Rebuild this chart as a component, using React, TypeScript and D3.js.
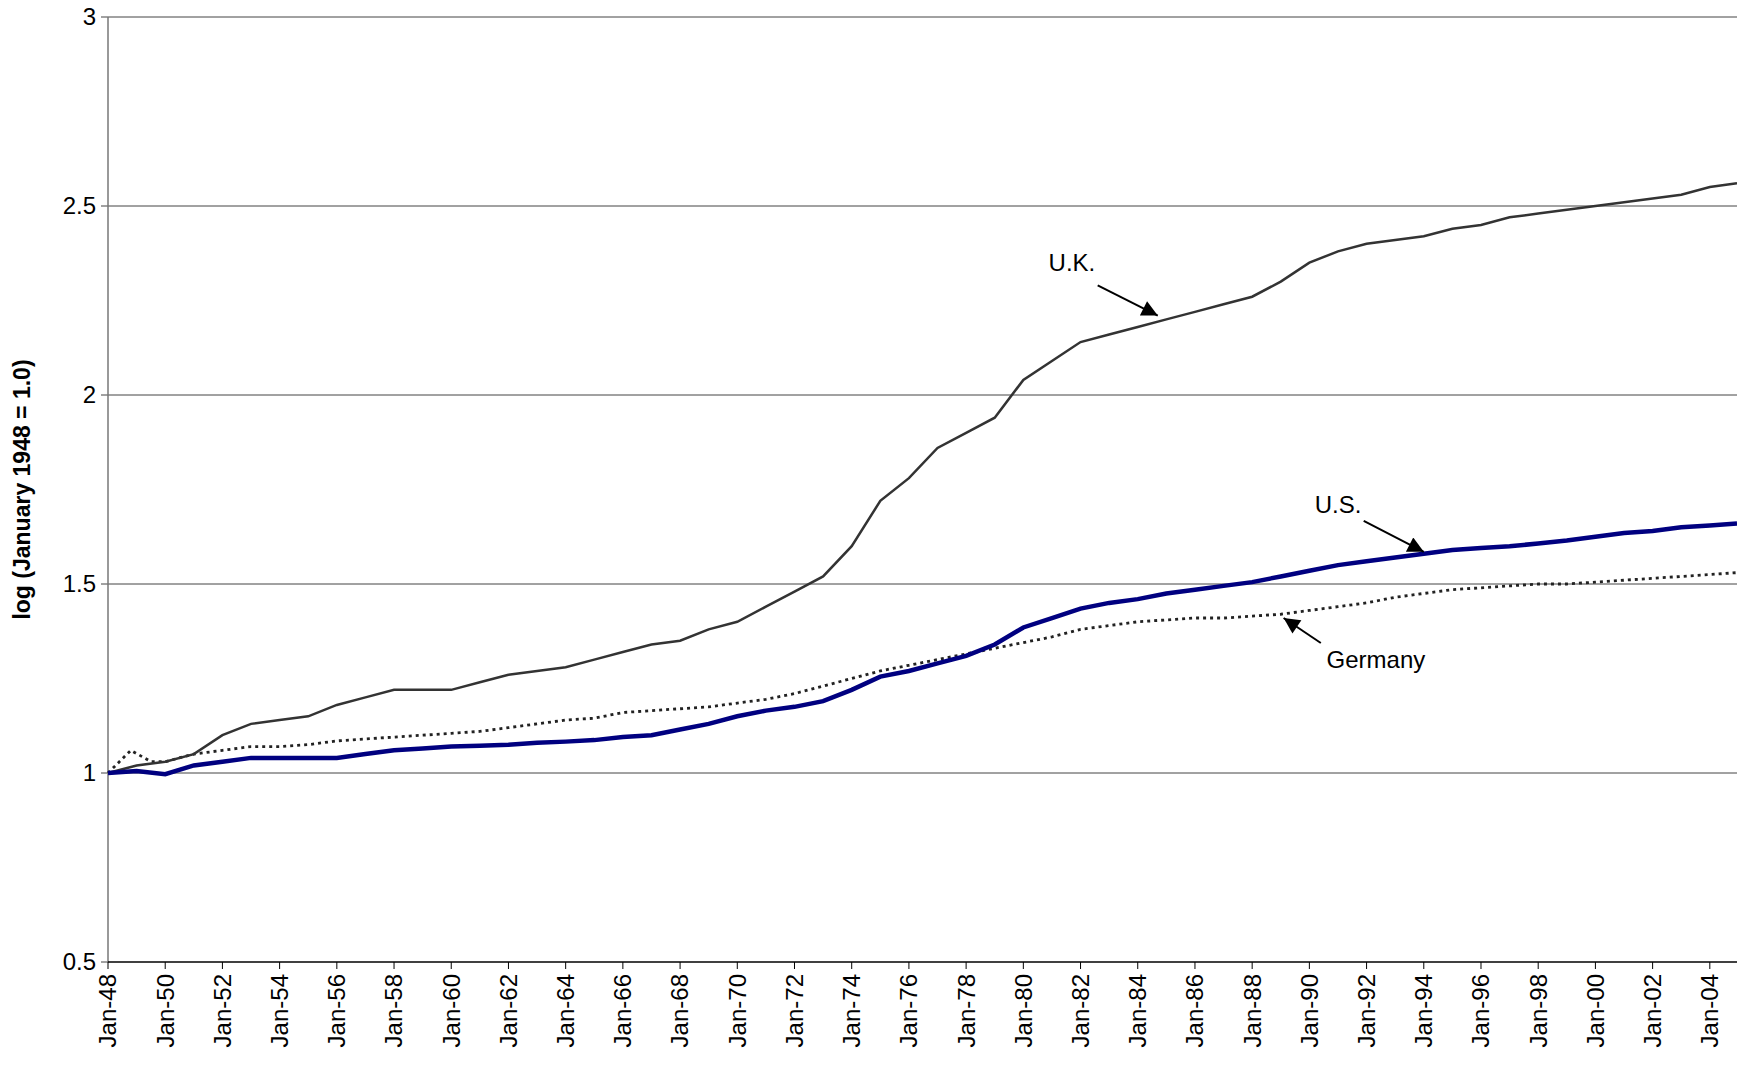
import * as d3 from 'd3';

const W = 1737;
const H = 1068;
const M = { top: 17, right: 0, bottom: 106, left: 108 };

const years = [
  1948, 1949, 1950, 1951, 1952, 1953, 1954, 1955, 1956, 1957, 1958, 1959, 1960, 1961, 1962, 1963,
  1964, 1965, 1966, 1967, 1968, 1969, 1970, 1971, 1972, 1973, 1974, 1975, 1976, 1977, 1978, 1979,
  1980, 1981, 1982, 1983, 1984, 1985, 1986, 1987, 1988, 1989, 1990, 1991, 1992, 1993, 1994, 1995,
  1996, 1997, 1998, 1999, 2000, 2001, 2002, 2003, 2004, 2004.95,
];
const ukValues = [
  1.0, 1.02, 1.03, 1.05, 1.1, 1.13, 1.14, 1.15, 1.18, 1.2, 1.22, 1.22, 1.22, 1.24, 1.26, 1.27,
  1.28, 1.3, 1.32, 1.34, 1.35, 1.38, 1.4, 1.44, 1.48, 1.52, 1.6, 1.72, 1.78, 1.86, 1.9, 1.94,
  2.04, 2.09, 2.14, 2.16, 2.18, 2.2, 2.22, 2.24, 2.26, 2.3, 2.35, 2.38, 2.4, 2.41, 2.42, 2.44,
  2.45, 2.47, 2.48, 2.49, 2.5, 2.51, 2.52, 2.53, 2.55, 2.56,
];
const usValues = [
  1.0, 1.005, 0.997, 1.02, 1.03, 1.04, 1.04, 1.04, 1.04, 1.05, 1.06, 1.065, 1.07, 1.072, 1.075, 1.08,
  1.083, 1.087, 1.095, 1.1, 1.115, 1.13, 1.15, 1.165, 1.175, 1.19, 1.22, 1.255, 1.27, 1.29, 1.31, 1.34,
  1.385, 1.41, 1.435, 1.45, 1.46, 1.475, 1.485, 1.495, 1.505, 1.52, 1.535, 1.55, 1.56, 1.57, 1.58, 1.59,
  1.595, 1.6, 1.607, 1.615, 1.625, 1.635, 1.64, 1.65, 1.655, 1.66,
];
const deYears = [1948, 1948.8, 1949.5, ...years.slice(2)];
const deValues = [
  1.0, 1.06, 1.03, 1.03, 1.05, 1.06, 1.07, 1.07, 1.075, 1.085, 1.09, 1.095, 1.1, 1.105, 1.11, 1.12, 1.13,
  1.14, 1.145, 1.16, 1.165, 1.17, 1.175, 1.185, 1.195, 1.21, 1.23, 1.25, 1.27, 1.285, 1.3, 1.315, 1.33,
  1.345, 1.36, 1.38, 1.39, 1.4, 1.405, 1.41, 1.41, 1.415, 1.42, 1.43, 1.44, 1.45, 1.465, 1.475, 1.485,
  1.49, 1.495, 1.5, 1.5, 1.505, 1.51, 1.515, 1.52, 1.525, 1.53,
];

const yTicks = [0.5, 1, 1.5, 2, 2.5, 3];
const xTickYears = d3.range(1948, 2005, 2);

// annotations: label position, arrow start, arrow tip (year, value)
const notes = [
  { text: 'U.K.', lx: 1981.7, ly: 2.35, anchor: 'middle', from: [1982.6, 2.29], to: [1984.7, 2.21] },
  { text: 'U.S.', lx: 1991.0, ly: 1.71, anchor: 'middle', from: [1991.9, 1.667], to: [1994.0, 1.585] },
  { text: 'Germany', lx: 1990.6, ly: 1.3, anchor: 'start', from: [1990.4, 1.344], to: [1989.1, 1.41] },
];

export default function App() {
  const iw = W - M.left - M.right;
  const ih = H - M.top - M.bottom;
  const x = d3.scaleLinear().domain([1948, 2004.95]).range([0, iw]);
  const y = d3.scaleLinear().domain([0.5, 3]).range([ih, 0]);
  const line = (xs: number[], vs: number[]) =>
    d3.line<number>().x((_, i) => x(xs[i])).y((d) => y(d))(vs) ?? '';
  const font = 'Arial, "Liberation Sans", sans-serif';

  return (
    <svg width={W} height={H} style={{ position: 'absolute', left: 0, top: 0, background: '#fff' }} fontFamily={font}>
      <defs>
        <marker id="arr" viewBox="0 0 10 10" refX="10" refY="5" markerWidth="20" markerHeight="16" markerUnits="userSpaceOnUse" orient="auto">
          <path d="M0,0 L10,5 L0,10 z" fill="#000" />
        </marker>
      </defs>
      <g transform={`translate(${M.left},${M.top})`}>
        {yTicks.map((t) => (
          <g key={t}>
            {t > 0.5 && <line x1={0} x2={iw} y1={y(t)} y2={y(t)} stroke="#444" strokeWidth={1} />}
            <line x1={-7} x2={0} y1={y(t)} y2={y(t)} stroke="#444" />
            <text x={-12} y={y(t)} dy="0.35em" textAnchor="end" fontSize={24}>{t}</text>
          </g>
        ))}
        <line x1={0} x2={0} y1={0} y2={ih} stroke="#777" strokeWidth={1.5} />
        <line x1={0} x2={iw} y1={ih} y2={ih} stroke="#000" strokeWidth={1.5} />
        {xTickYears.map((yr) => (
          <g key={yr} transform={`translate(${x(yr)},${ih})`}>
            <line y1={0} y2={7} stroke="#000" />
            <text transform="rotate(-90)" x={-12} dy="0.35em" textAnchor="end" fontSize={24}>
              {`Jan-${String(yr % 100).padStart(2, '0')}`}
            </text>
          </g>
        ))}
        <path d={line(deYears, deValues)} fill="none" stroke="#222" strokeWidth={2.8} strokeDasharray="3,4" />
        <path d={line(years, ukValues)} fill="none" stroke="#333" strokeWidth={2.5} />
        <path d={line(years, usValues)} fill="none" stroke="#000080" strokeWidth={4.5} />
        {notes.map((n) => (
          <g key={n.text}>
            <text x={x(n.lx)} y={y(n.ly)} dy="0.35em" textAnchor={n.anchor} fontSize={24}>{n.text}</text>
            <line x1={x(n.from[0])} y1={y(n.from[1])} x2={x(n.to[0])} y2={y(n.to[1])} stroke="#000" strokeWidth={2} markerEnd="url(#arr)" />
          </g>
        ))}
      </g>
      <text transform={`translate(30,${M.top + ih / 2}) rotate(-90)`} textAnchor="middle" fontSize={23} fontWeight="bold">
        log (January 1948 = 1.0)
      </text>
    </svg>
  );
}
